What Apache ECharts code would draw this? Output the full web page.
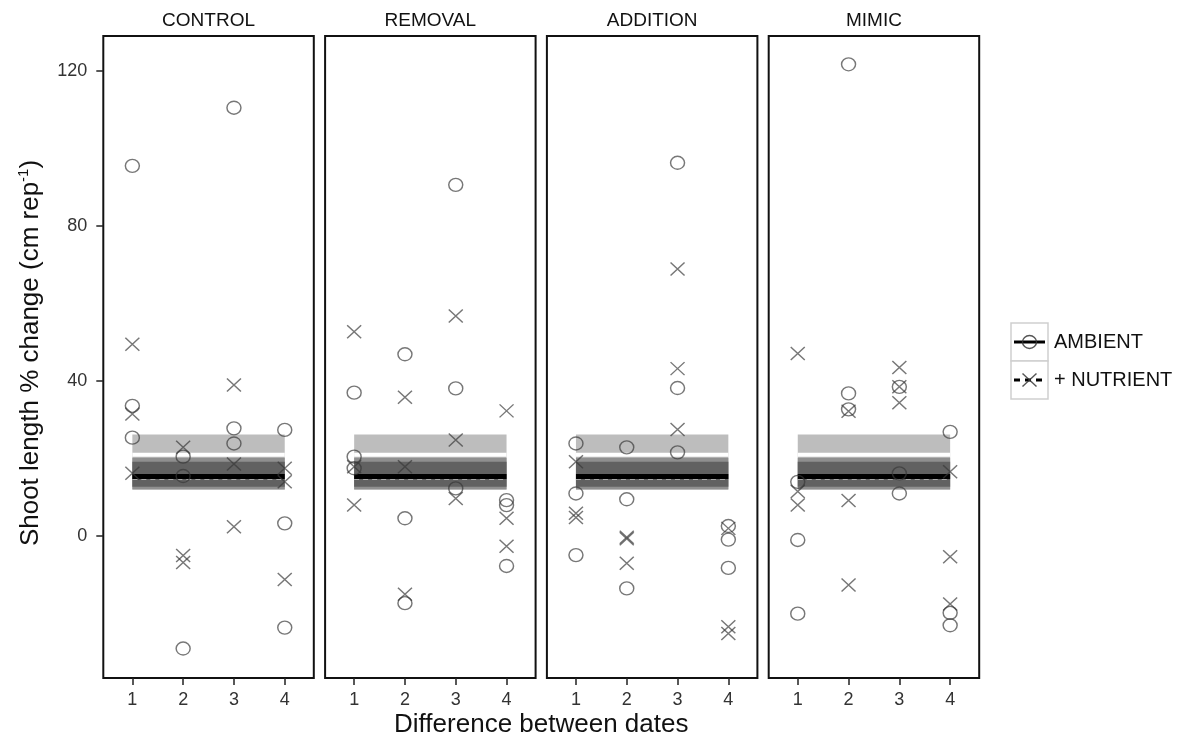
<!DOCTYPE html>
<html>
<head>
<meta charset="utf-8">
<script src="https://cdn.jsdelivr.net/npm/echarts@6/dist/echarts.min.js"></script>
<style>
html,body{margin:0;padding:0;background:#fff;}
#chart{width:1186px;height:740px;}
</style>
</head>
<body>
<div id="chart"></div>
<script>
// ---------------- data ----------------
const dates = [1, 2, 3, 4];
const panels = ['CONTROL', 'REMOVAL', 'ADDITION', 'MIMIC'];
const yTicks = [0, 40, 80, 120];

// values per date (1..4), three replicates each
const ambientControl  = [[95.5, 33.6, 25.4], [20.5, 15.5, -29.0], [110.5, 27.8, 23.9], [27.4, 3.3, -23.6]];
const nutrientControl = [[49.5, 31.5, 16.2], [22.9, -5.0, -6.8], [39.0, 18.6, 2.4], [17.5, 14.0, -11.2]];

const ambientRemoval  = [[37.0, 20.5, 17.5], [46.9, 4.6, -17.3], [90.6, 38.1, 12.3], [9.3, 8.0, -7.7]];
const nutrientRemoval = [[52.7, 17.9, 8.0], [35.8, 17.9, -15.0], [56.8, 24.8, 9.7], [32.3, 4.6, -2.6]];

const ambientAddition  = [[23.9, 11.0, -4.9], [22.9, 9.5, -13.5], [96.3, 38.2, 21.6], [2.6, -0.9, -8.2]];
const nutrientAddition = [[19.2, 5.9, 4.8], [-0.3, -0.7, -7.0], [68.9, 43.2, 27.5], [2.0, -23.4, -25.1]];

const ambientMimic  = [[14.0, -1.0, -20.0], [121.7, 36.8, 32.7], [38.5, 16.2, 11.0], [26.9, -19.8, -23.0]];
const nutrientMimic = [[47.1, 11.5, 8.0], [32.2, 9.2, -12.6], [43.5, 38.5, 34.4], [16.6, -5.3, -17.5]];

// fitted means and confidence ribbons (same in every panel)
const fitRange = [1, 4];
const ribbonLight = [12.0, 26.2];
const ribbonDarkEdge = [12.0, 20.2];
const ribbonDark = [12.7, 19.2];
const lineWhite = 21.0;
const lineBlack = 15.4;
const lineDashed = 14.6;

const ambientAll = [ambientControl, ambientRemoval, ambientAddition, ambientMimic];
const nutrientAll = [nutrientControl, nutrientRemoval, nutrientAddition, nutrientMimic];

// ---------------- chart ----------------
function toPoints(groups) {
  const out = [];
  groups.forEach((vals, i) => vals.forEach(v => out.push([dates[i], v])));
  return out;
}

const FONT = "'Liberation Sans', Arial, sans-serif";
const gridLeft0 = 103.3, gridPitch = 221.8, gridW = 210.5, gridTop = 36, gridH = 642;
const yMin = -36.6, yMax = 129.0, xMin = 0.428, xMax = 4.572;

const grids = [], xAxes = [], yAxes = [], series = [], graphics = [];

function rectRender(color) {
  return function (params, api) {
    const p0 = api.coord([api.value(0), api.value(3)]);
    const p1 = api.coord([api.value(1), api.value(2)]);
    return {
      type: 'rect',
      shape: { x: p0[0], y: p0[1], width: p1[0] - p0[0], height: p1[1] - p0[1] },
      style: { fill: color }
    };
  };
}

const crossPath = 'path://M0,0L10,10M10,0L0,10';

panels.forEach((name, i) => {
  const left = gridLeft0 + i * gridPitch;
  grids.push({
    left: left, top: gridTop, width: gridW, height: gridH,
    show: true, borderColor: '#111', borderWidth: 2, backgroundColor: '#fff'
  });
  xAxes.push({
    gridIndex: i, type: 'value', min: xMin, max: xMax, position: 'bottom',
    axisLine: { show: false, onZero: false },
    splitLine: { show: false },
    axisTick: { show: true, customValues: dates, length: 7, lineStyle: { color: '#222', width: 1.5 } },
    axisLabel: { show: true, customValues: dates, margin: 13, fontSize: 18, color: '#333', fontFamily: FONT }
  });
  yAxes.push({
    gridIndex: i, type: 'value', min: yMin, max: yMax, position: 'left',
    axisLine: { show: false, onZero: false },
    splitLine: { show: false },
    axisTick: { show: i === 0, customValues: yTicks, length: 7, lineStyle: { color: '#222', width: 1.5 } },
    axisLabel: { show: i === 0, customValues: yTicks, margin: 16, fontSize: 18, color: '#333', fontFamily: FONT }
  });

  const bands = [
    [ribbonLight, '#bdbdbd'],
    [ribbonDarkEdge, '#8f8f8f'],
    [ribbonDark, '#616161']
  ];
  bands.forEach(([rng, color]) => {
    series.push({
      type: 'custom', xAxisIndex: i, yAxisIndex: i, z: 1, silent: true,
      renderItem: rectRender(color),
      encode: { x: [0, 1], y: [2, 3] },
      data: [[fitRange[0], fitRange[1], rng[0], rng[1]]]
    });
  });
  const lines = [
    [lineWhite, { color: '#ffffff', width: 4, type: 'solid' }],
    [lineBlack, { color: '#000000', width: 5, type: 'solid' }],
    [lineDashed, { color: '#a8a8a8', width: 1, type: [5, 4] }]
  ];
  lines.forEach(([v, ls]) => {
    series.push({
      type: 'line', xAxisIndex: i, yAxisIndex: i, z: 2, silent: true,
      showSymbol: false, symbol: 'none', lineStyle: ls,
      data: [[fitRange[0], v], [fitRange[1], v]]
    });
  });

  series.push({
    name: 'AMBIENT', type: 'scatter', xAxisIndex: i, yAxisIndex: i, z: 3,
    symbol: 'circle', symbolSize: [14, 13],
    itemStyle: { color: 'rgba(0,0,0,0)', borderColor: 'rgba(55,55,55,0.85)', borderWidth: 1.4 },
    data: toPoints(ambientAll[i])
  });
  series.push({
    name: '+ NUTRIENT', type: 'scatter', xAxisIndex: i, yAxisIndex: i, z: 3,
    symbol: crossPath, symbolSize: [14, 13],
    itemStyle: { color: 'rgba(0,0,0,0)', borderColor: 'rgba(55,55,55,0.85)', borderWidth: 1.4 },
    data: toPoints(nutrientAll[i])
  });

  graphics.push({
    type: 'text', x: left + gridW / 2, y: 21,
    style: { text: name, fontSize: 19, fontFamily: FONT, fill: '#111', textAlign: 'center', textVerticalAlign: 'middle' }
  });
});

// axis titles
graphics.push({
  type: 'text', x: gridLeft0 + (3 * gridPitch + gridW) / 2, y: 725,
  style: { text: 'Difference between dates', fontSize: 26, fontFamily: FONT, fill: '#111', textAlign: 'center', textVerticalAlign: 'middle' }
});
graphics.push({
  type: 'text', x: 31, y: 353, rotation: Math.PI / 2,
  style: {
    text: '{a|Shoot length % change (cm rep}{b|-1}{a|)}',
    fontFamily: FONT, fill: '#111', textAlign: 'center', textVerticalAlign: 'middle',
    rich: {
      a: { fontSize: 26, fontFamily: FONT, fill: '#111', lineHeight: 30 },
      b: { fontSize: 15, fontFamily: FONT, fill: '#111', verticalAlign: 'top', lineHeight: 30 }
    }
  }
});

// legend
const lgX = 1011, lgY = 323, lgW = 37, lgH = 38;
[0, 1].forEach(k => {
  const y0 = lgY + k * lgH;
  const cy = y0 + lgH / 2;
  graphics.push({ type: 'rect', shape: { x: lgX, y: y0, width: lgW, height: lgH }, style: { fill: '#fff', stroke: '#cfcfcf', lineWidth: 1.5 } });
  graphics.push({ type: 'line', shape: { x1: lgX + 3, y1: cy, x2: lgX + lgW - 3, y2: cy },
    style: { stroke: '#000', lineWidth: 3, lineDash: k === 0 ? null : [6, 5] } });
  if (k === 0) {
    graphics.push({ type: 'ellipse', shape: { cx: lgX + lgW / 2, cy: cy, rx: 7, ry: 6.5 }, style: { fill: 'none', stroke: 'rgba(55,55,55,0.85)', lineWidth: 1.4 } });
  } else {
    graphics.push({ type: 'polyline', shape: { points: [[lgX + lgW / 2 - 7, cy - 6.5], [lgX + lgW / 2 + 7, cy + 6.5]] }, style: { stroke: 'rgba(55,55,55,0.85)', lineWidth: 1.4 } });
    graphics.push({ type: 'polyline', shape: { points: [[lgX + lgW / 2 + 7, cy - 6.5], [lgX + lgW / 2 - 7, cy + 6.5]] }, style: { stroke: 'rgba(55,55,55,0.85)', lineWidth: 1.4 } });
  }
  graphics.push({ type: 'text', x: lgX + lgW + 6, y: cy,
    style: { text: k === 0 ? 'AMBIENT' : '+ NUTRIENT', fontSize: 20, fontFamily: FONT, fill: '#111', textAlign: 'left', textVerticalAlign: 'middle' } });
});

const chart = echarts.init(document.getElementById('chart'), null, { renderer: 'canvas' });
chart.setOption({
  animation: false,
  backgroundColor: '#fff',
  grid: grids,
  xAxis: xAxes,
  yAxis: yAxes,
  series: series,
  graphic: graphics
});
</script>
</body>
</html>
